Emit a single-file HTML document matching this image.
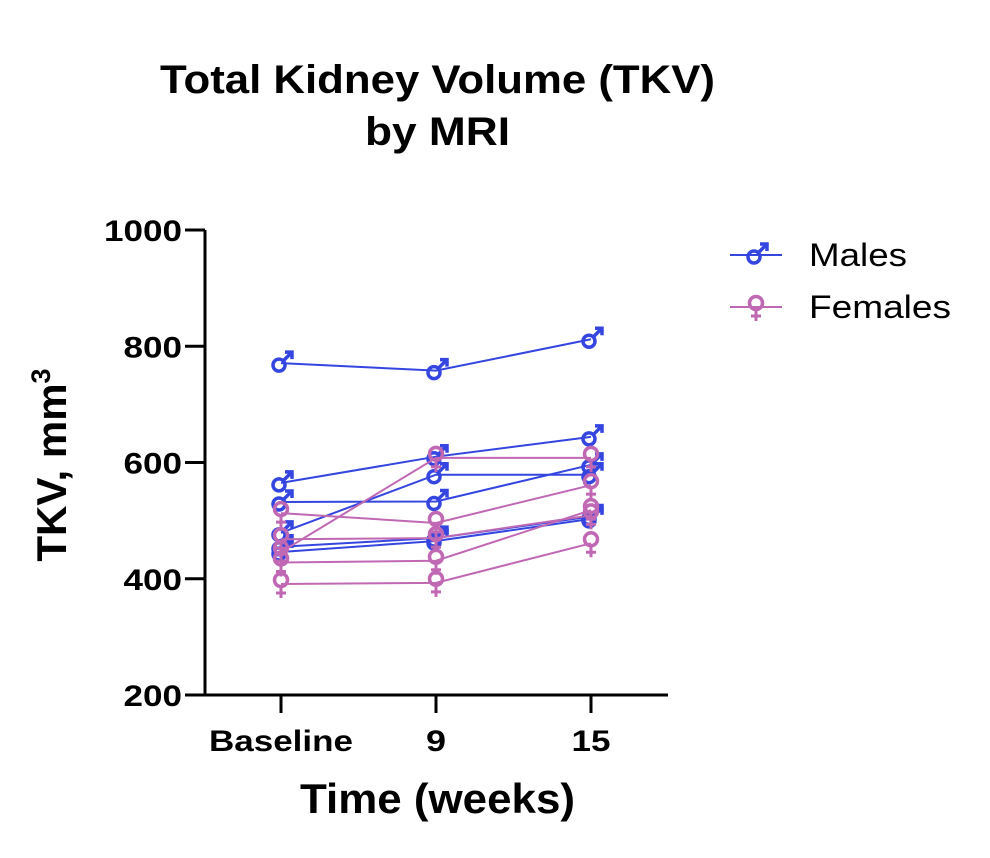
<!DOCTYPE html>
<html><head><meta charset="utf-8"><style>
html,body{margin:0;padding:0;background:#fff;}
svg{display:block;font-family:"Liberation Sans",Arial,sans-serif;}
</style></head><body>
<svg id="chart" width="990" height="858" viewBox="0 0 990 858">
<text x="160" y="93" font-size="40" font-weight="bold" textLength="555" lengthAdjust="spacingAndGlyphs">Total Kidney Volume (TKV)</text>
<text x="365" y="145" font-size="40" font-weight="bold" textLength="145" lengthAdjust="spacingAndGlyphs">by MRI</text>
<g id="axes"></g>
<g id="series"></g>
<g id="legend"></g>
<text transform="translate(66,465) rotate(-90)" text-anchor="middle" font-size="42" font-weight="bold">TKV, mm<tspan font-size="27" dy="-16">3</tspan></text>
<text x="300" y="813" font-size="42" font-weight="bold" textLength="275" lengthAdjust="spacingAndGlyphs">Time (weeks)</text>
</svg>
<script>
const categories = ["Baseline","9","15"];
const yTicks = [200,400,600,800,1000];
const males = [
 [771,758,812],
 [565,610,644],
 [532,533,596],
 [479,579,579],
 [455,470,507],
 [446,465,503]
];
const females = [
 [513,496,561],
 [446,608,608],
 [468,470,509],
 [428,431,518],
 [391,393,461]
];
const NS="http://www.w3.org/2000/svg";
const X0=205,X1=668,YT=230,YB=695;
function xs(i){return 281+i*155;}
function ys(v){return YB-(v-200)/800*(YB-YT);}
function mk(tag,attrs,parent){const e=document.createElementNS(NS,tag);for(const k in attrs)e.setAttribute(k,attrs[k]);parent.appendChild(e);return e;}
const axes=document.getElementById('axes');
let a=mk('path',{d:`M${X0},${YT} L${X0},${YB} L${X1},${YB}`,fill:'none',stroke:'#000','stroke-width':3},axes);


yTicks.forEach(t=>{
 const y=ys(t);
 const l=mk('line',{x1:185,x2:X0,y1:y,y2:y,stroke:'#000','stroke-width':3},axes);
 
 
 const tx=mk('text',{x:182,y:y+11,'text-anchor':'end','font-size':30,'font-weight':'bold',textLength:String(t).length*19.5,lengthAdjust:'spacingAndGlyphs'},axes);
 tx.textContent=t;
 
 
});
const xLabW={"Baseline":144,"9":20,"15":39};
categories.forEach((c,i)=>{
 const x=xs(i);
 const l=mk('line',{x1:x,x2:x,y1:YB,y2:713,stroke:'#000','stroke-width':3},axes);
 
 
 const tx=mk('text',{x:x,y:751,'text-anchor':'middle','font-size':30,'font-weight':'bold',textLength:xLabW[c]||20*c.length,lengthAdjust:'spacingAndGlyphs'},axes);
 tx.textContent=c;
 
 
});
const MC='#3445e0',FC='#c068b4';
function maleSym(p,x,y){
 const g=mk('g',{},p);
 mk('circle',{cx:x-2,cy:y+2,r:6,fill:'none',stroke:MC,'stroke-width':3.5},g);
 mk('path',{d:`M${x+2},${y-2} L${x+11},${y-11} M${x+4},${y-11} L${x+11},${y-11} L${x+11},${y-4}`,fill:'none',stroke:MC,'stroke-width':3.5},g);
 return g;
}
function femaleSym(p,x,y){
 const g=mk('g',{},p);
 mk('circle',{cx:x,cy:y-4,r:6.5,fill:'none',stroke:FC,'stroke-width':3.5},g);
 mk('path',{d:`M${x},${y+3} L${x},${y+14} M${x-5},${y+9} L${x+5},${y+9}`,fill:'none',stroke:FC,'stroke-width':3},g);
 return g;
}
const ser=document.getElementById('series');
function drawSeries(arr,color,sym,name){
 arr.forEach((vals,k)=>{
  const pts=vals.map((v,i)=>xs(i)+','+ys(v)).join(' ');
  const pl=mk('polyline',{points:pts,fill:'none',stroke:color,'stroke-width':2},ser);
  
  
 });
 arr.forEach((vals,k)=>{
  vals.forEach((v,i)=>{
   const g=sym(ser,xs(i),ys(v));
   
   
  });
 });
}
drawSeries(males,MC,maleSym,'male');
drawSeries(females,FC,femaleSym,'female');
const lg=document.getElementById('legend');
[[ 'Males',MC,maleSym,255,98],['Females',FC,femaleSym,307,142]].forEach(([t,c,s,y,w])=>{
 const g=mk('g',{},lg);
 
 
 mk('line',{x1:730,x2:782,y1:y,y2:y,stroke:c,'stroke-width':2},g);
 s(g,756,y);
 const tx=mk('text',{x:809,y:y+11,'font-size':32,textLength:w,lengthAdjust:'spacingAndGlyphs'},g);
 tx.textContent=t;
});
</script>
</body></html>
